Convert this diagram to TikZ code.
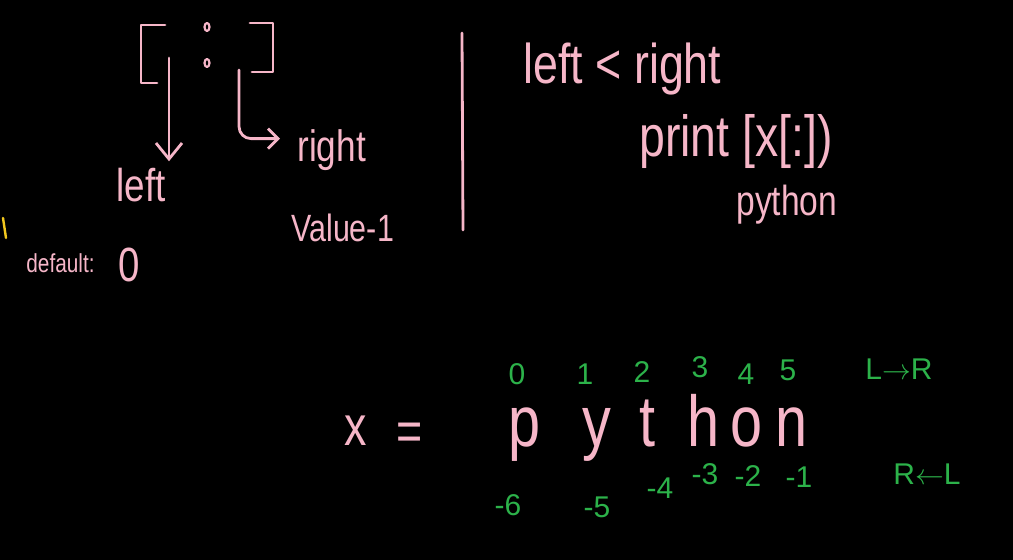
\documentclass[tikz,border=0pt]{standalone}
\usepackage{fontspec}
\usepackage{graphicx}
\setmainfont{Liberation Sans}
\usetikzlibrary{arrows.meta}
\definecolor{chalkpink}{HTML}{F6B6C8}
\definecolor{chalkgreen}{HTML}{2CB24A}
\definecolor{chalkyellow}{HTML}{F2C81E}
\newcommand{\fsz}[1]{\fontsize{#1}{#1}\selectfont}
\newcommand{\tall}[1]{\scalebox{0.8}[1]{#1}}

\begin{document}
\begin{tikzpicture}[x=0.5pt, y=-0.5pt, line width=1.4pt, line cap=round, line join=round,
  pinktxt/.style={text=chalkpink, inner sep=0pt},
  greentxt/.style={text=chalkgreen, inner sep=0pt, font=\fsz{15}},
  pinkline/.style={draw=chalkpink}]
  \fill[black] (0,0) rectangle (1013,560);
  \useasboundingbox (0,0) rectangle (1013,560);
  % slice [ : ]
  \draw[pinkline] (165,25) -- (141,25) -- (141,83) -- (157,83);
  \draw[pinkline] (250,23) -- (273,23) -- (273,72) -- (252,72);
  \draw[pinkline, line width=1.1pt] (207,27) ellipse (2.5 and 4);
  \draw[pinkline, line width=1.1pt] (207,63) ellipse (2.5 and 4);
  \coordinate (lstart) at (169,58);
  \coordinate (rstart) at (239,70);
  \node[pinktxt, font=\fsz{23}, anchor=base west] (leftlbl) at (115,202) {\tall{left}};
  \node[pinktxt, font=\fsz{22}, anchor=base west] (rightlbl) at (296,162) {\tall{right}};
  \node[pinktxt, font=\fsz{19}, anchor=base west] (rightval) at (290,242) {\tall{Value-1}};
  \node[pinktxt, font=\fsz{13}, anchor=base west] (deflbl) at (25,273) {\tall{default:}};
  \node[pinktxt, font=\fsz{24}, anchor=base west] (defval) at (117,282) {\tall{0}};
  \draw[pinkline, -{Straight Barb[length=8pt,width=13pt]}, shorten >=3pt]
    (lstart) -- (lstart |- leftlbl.north);
  \draw[pinkline, rounded corners=6pt, -{Straight Barb[length=5pt,width=10pt]}]
    (rstart) |- ([yshift=6pt, xshift=-8pt]rightlbl.west);
  \draw[chalkyellow, line width=1.2pt] (3,218) -- (6,238);
  % divider
  \draw[pinkline] (462,33) -- (463,230);
  \node[pinktxt, font=\fsz{28}, anchor=base west] (cond) at (522,84) {\tall{left < right}};
  \node[pinktxt, font=\fsz{29}, anchor=base west] (printcall) at (638,157) {\tall{print [x[:])}};
  \node[pinktxt, font=\fsz{21}, anchor=base west] (result) at (735,216) {\tall{python}};
  % x = python with indices
  \node[pinktxt, font=\fsz{28}, anchor=base] (xvar) at (356,446) {\tall{x}};
  \node[pinktxt, font=\fsz{28}, anchor=base] (eqsign) at (410,451) {\tall{=}};
  \foreach \ch/\cx [count=\i from 0] in {p/525,y/597,t/647,h/704,o/747,n/792}
    \node[pinktxt, font=\fsz{36}, anchor=base] (ch\i) at (\cx,447) {\tall{\ch}};
  \foreach \tx/\ty [count=\i from 0] in {517/385,585/385,642/383,700/378,746/385,788/381}
    \node[greentxt, anchor=base] (pos\i) at (\tx,\ty) {\i};
  \foreach \nb/\bx/\by [count=\i from 0] in {-6/508/516,-5/597/518,-4/660/499,-3/705/485,-2/748/487,-1/799/488}
    \node[greentxt, anchor=base] (neg\i) at (\bx,\by) {\nb};
  \node[greentxt, anchor=base west] (ltor) at (864,380) {L$\rightarrow$R};
  \node[greentxt, anchor=base west] (rtol) at (892,485) {R$\leftarrow$L};
\end{tikzpicture}
\end{document}
